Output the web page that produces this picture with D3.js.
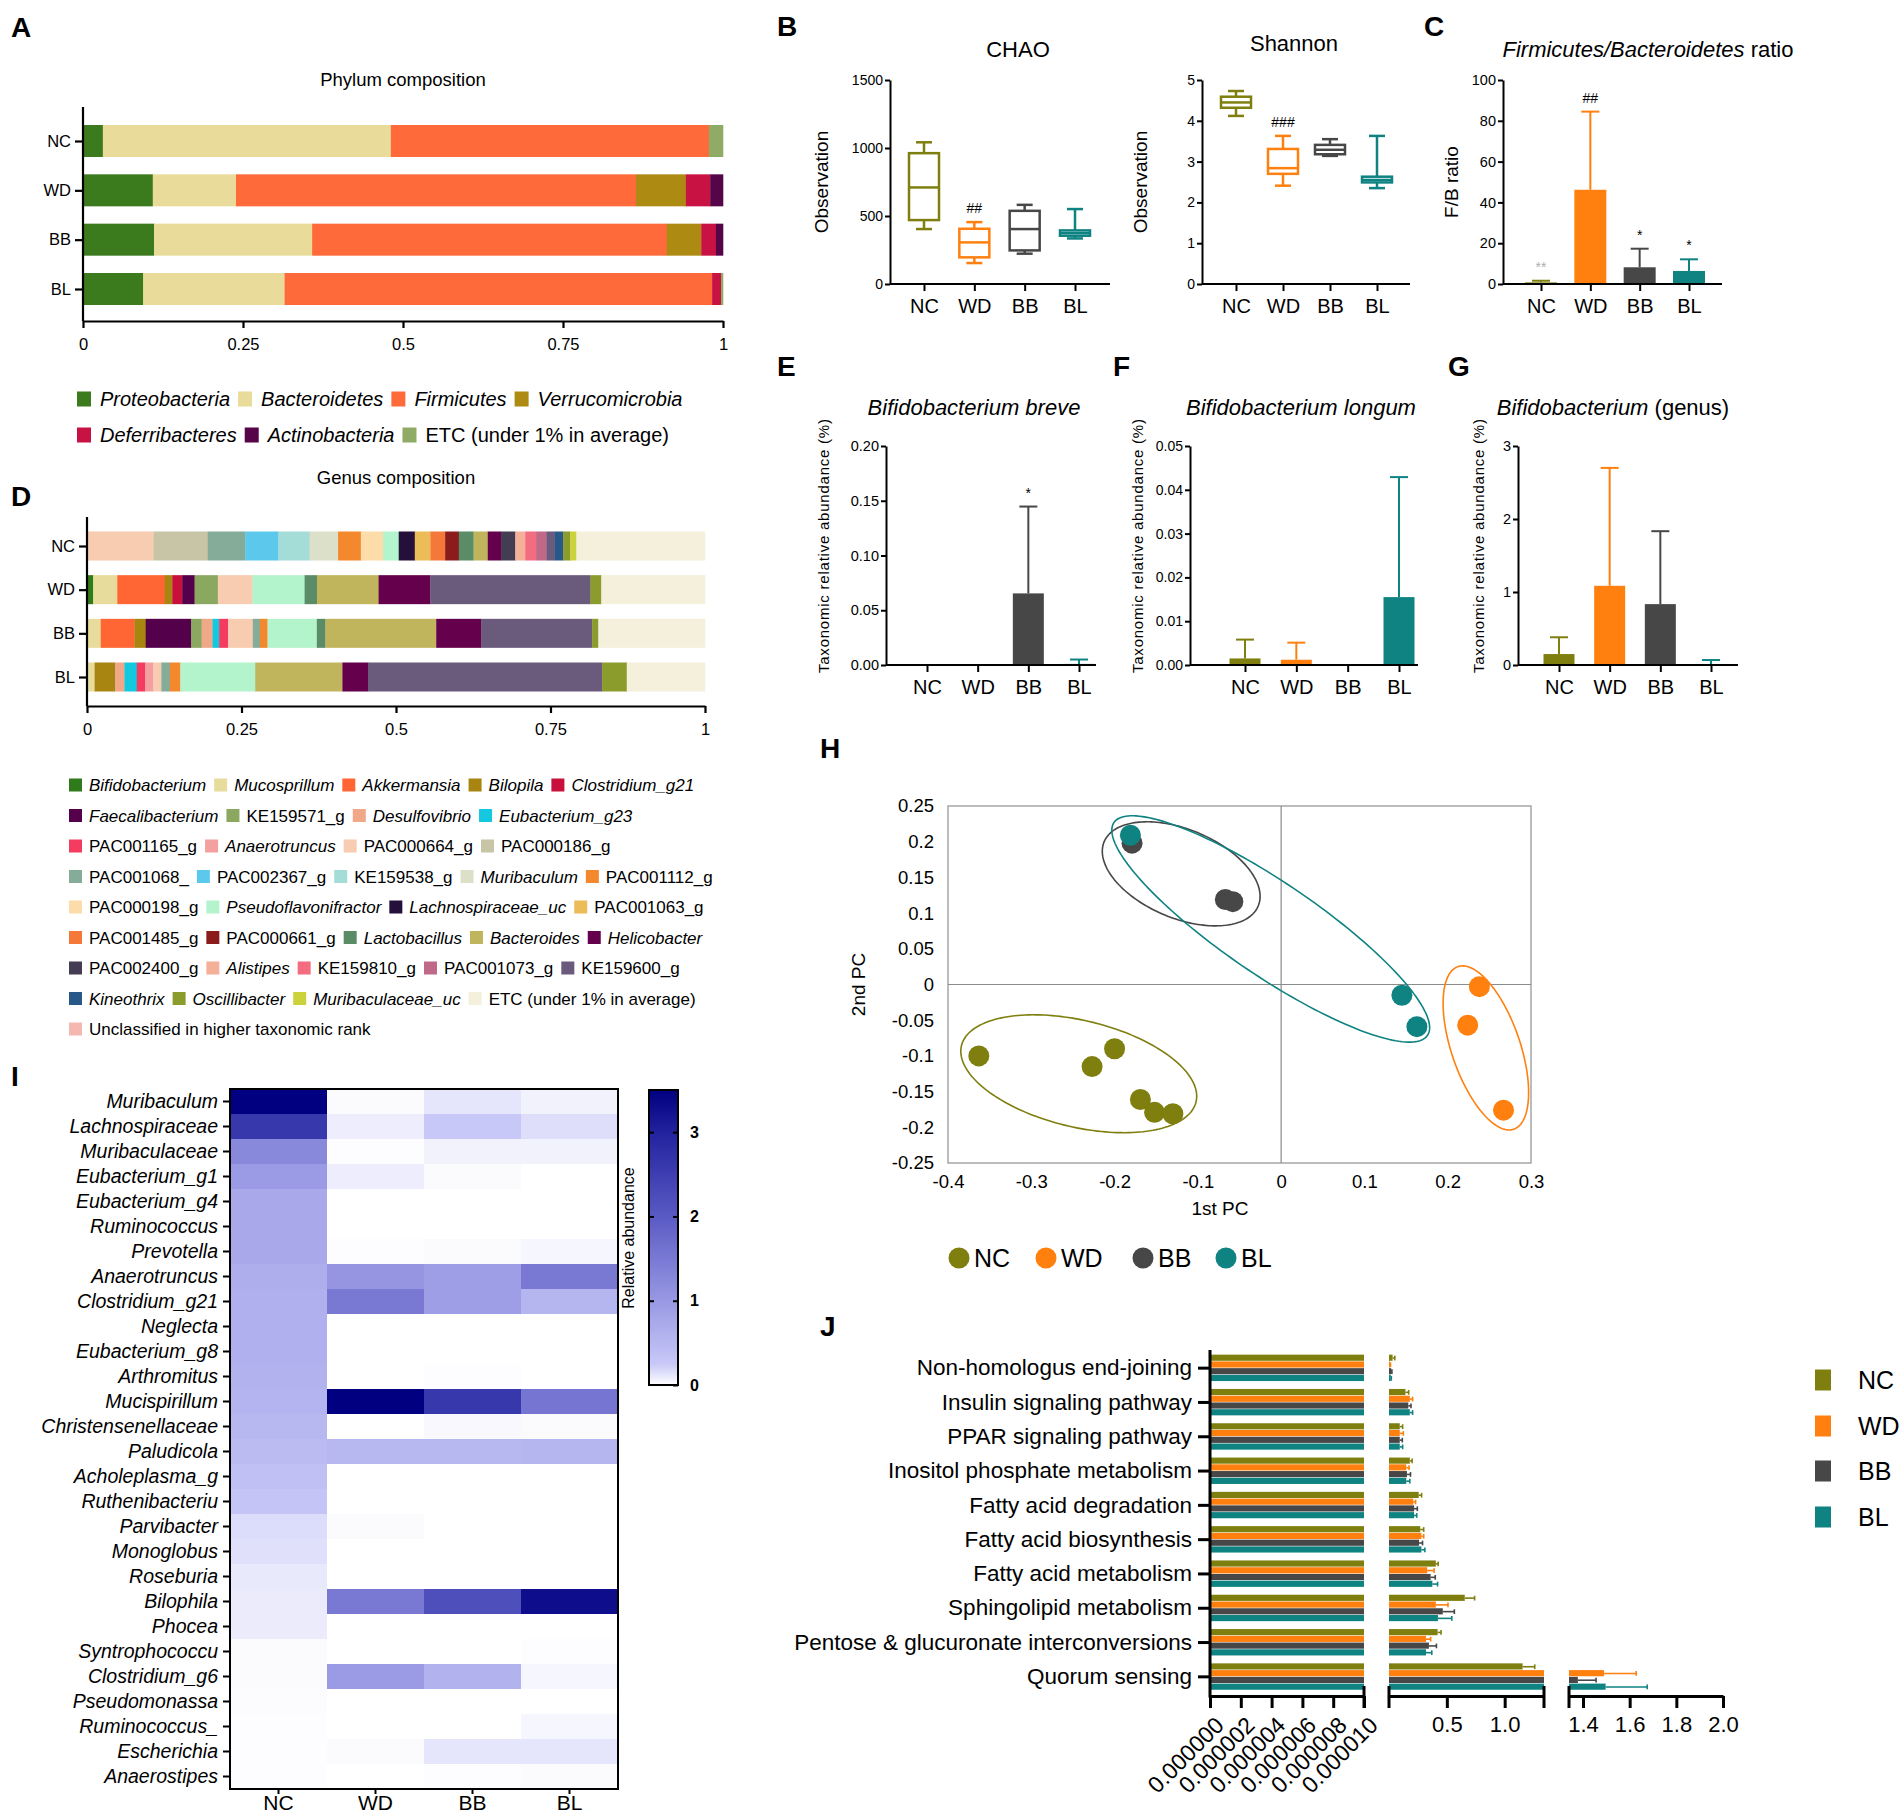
<!DOCTYPE html>
<html>
<head>
<meta charset="utf-8">
<script src="https://cdn.jsdelivr.net/npm/d3@7/dist/d3.min.js"></script>
<style>
html,body{margin:0;padding:0;background:#fff;}
svg{display:block;font-family:"Liberation Sans",Arial,Helvetica,sans-serif;}
</style>
</head>
<body>
<svg id="fig" width="1904" height="1817" viewBox="0 0 1904 1817"></svg>
<script>
// ================= DATA =================
const groups = ["NC","WD","BB","BL"];
const groupColors = ["#7f7f10","#ff800e","#474747","#0f8282"];

// Panel A – phylum composition
const phylumNames = ["Proteobacteria","Bacteroidetes","Firmicutes","Verrucomicrobia","Deferribacteres","Actinobacteria","ETC (under 1% in average)"];
const phylumItalic = [true,true,true,true,true,true,false];
const phylumColors = ["#3b7a1d","#e9dc9a","#ff6a3b","#ad8a12","#c81243","#560548","#8fab66"];
const phylumNC = [0.031,0.450,0.497,0,0,0,0.022];
const phylumWD = [0.109,0.130,0.625,0.078,0.038,0.020,0];
const phylumBB = [0.111,0.247,0.554,0.054,0.023,0.011,0];
const phylumBL = [0.094,0.221,0.668,0,0.014,0,0.003];
const compTicks = [0,0.25,0.5,0.75,1];

// Panel D – genus composition
const genusNames = ["Bifidobacterium","Mucosprillum","Akkermansia","Bilopila","Clostridium_g21",
 "Faecalibacterium","KE159571_g","Desulfovibrio","Eubacterium_g23",
 "PAC001165_g","Anaerotruncus","PAC000664_g","PAC000186_g",
 "PAC001068_","PAC002367_g","KE159538_g","Muribaculum","PAC001112_g",
 "PAC000198_g","Pseudoflavonifractor","Lachnospiraceae_uc","PAC001063_g",
 "PAC001485_g","PAC000661_g","Lactobacillus","Bacteroides","Helicobacter",
 "PAC002400_g","Alistipes","KE159810_g","PAC001073_g","KE159600_g",
 "Kineothrix","Oscillibacter","Muribaculaceae_uc","ETC (under 1% in average)",
 "Unclassified in higher taxonomic rank"];
const genusItalic = [1,1,1,1,1, 1,0,1,1, 0,1,0,0, 0,0,0,1,0, 0,1,1,0, 0,0,1,1,1, 0,1,0,0,0, 1,1,1,0, 0];
const genusColors = ["#2f7a1a","#e8dc9c","#ff6633","#a88410","#c8103c",
 "#55004a","#8aa860","#f0a888","#14c8e0",
 "#f43c60","#f4a0a0","#f8ccb0","#c8c4a6",
 "#84ac98","#5cc8ec","#a4dcd8","#dde0c8","#f4882c",
 "#fcdca8","#b4f4cc","#24103a","#ecbc58",
 "#f47838","#8c1c1c","#5a8c68","#c0b45c","#64004c",
 "#443c50","#f4b098","#f46c80","#c06888","#6a5a7c",
 "#285888","#8c9c2c","#ccd23c","#f4f0dc",
 "#f4b8b0"];
const genusLegendRows = [5,4,4,5,4,5,5,4,1];
const genusNC = [0,0,0,0,0, 0,0,0,0, 0,0,0.108,0.0874, 0.0606,0.0537,0.0506,0.046,0.0368, 0.036,0.0253,0.026,0.0253, 0.0238,0.0222,0.0238,0.023,0.0215, 0.023,0.0161,0.0176,0.0169,0.013, 0.0138,0.0115,0.01,0.2081, 0];
const genusWD = [0.01,0.039,0.0767,0.0123,0.0161, 0.02,0.0376,0,0, 0,0,0.056,0, 0,0,0,0,0, 0,0.0844,0,0, 0,0,0.02,0.0997,0.0836, 0,0,0,0,0.2592, 0,0.0176,0,0.1678, 0];
const genusBB = [0,0.0222,0.0544,0.0184,0, 0.0736,0.0169,0.0176,0.0107, 0.0146,0,0.0399,0, 0.0115,0,0,0,0.0123, 0,0.0798,0,0, 0,0,0.0138,0.1794,0.0729, 0,0,0,0,0.1794, 0,0.01,0,0.1726, 0];
const genusBL = [0,0.0123,0,0.033,0, 0,0,0.0153,0.0199, 0.0138,0.013,0.013,0, 0.0138,0,0,0,0.0169, 0,0.1212,0,0, 0,0,0,0.1411,0.0414, 0,0,0,0,0.3788, 0,0.0399,0,0.1266, 0];

// Panel B – box plots [min, q1, median, q3, max]
const chaoStats = [[404,470,710,962,1042],[154,196,306,406,455],[223,247,404,538,582],[335,355,374,394,551]];
const chaoSig = ["","##","",""];
const chaoTicks = [0,500,1000,1500];
const shannonStats = [[4.12,4.32,4.45,4.59,4.73],[2.41,2.70,2.84,3.31,3.63],[3.14,3.18,3.29,3.41,3.55],[2.35,2.49,2.55,2.63,3.63]];
const shannonSig = ["","###","",""];
const shannonTicks = [0,1,2,3,4,5];

// Panel C – F/B ratio (mean, upper error)
const fbMean = [0.8,46.2,8.2,6.4];
const fbErr = [1.6,84.5,17.3,12.1];
const fbSig = ["**","##","*","*"];
const fbTicks = [0,20,40,60,80,100];

// Panels E, F, G
const breveMean = [0,0,0.0654,0.001];
const breveErr = [0,0,0.1447,0.005];
const breveSig = ["","","*",""];
const breveTicks = [0,0.05,0.10,0.15,0.20];
const longumMean = [0.0015,0.0012,0,0.0155];
const longumErr = [0.0058,0.0051,0,0.0429];
const longumTicks = [0,0.01,0.02,0.03,0.04,0.05];
const genusBifMean = [0.15,1.085,0.834,0.014];
const genusBifErr = [0.38,2.70,1.833,0.068];
const genusBifTicks = [0,1,2,3];

// Panel H – PCA
const pcaNC = [[-0.363,-0.100],[-0.227,-0.115],[-0.200,-0.090],[-0.169,-0.161],[-0.152,-0.179],[-0.130,-0.181]];
const pcaWD = [[0.238,-0.003],[0.224,-0.057],[0.267,-0.176]];
const pcaBB = [[-0.179,0.198],[-0.067,0.119],[-0.058,0.116]];
const pcaBL = [[-0.181,0.209],[0.145,-0.015],[0.163,-0.059]];
const ellipseCenter = [[-0.243,-0.125],[0.2458,-0.0888],[-0.120,0.155],[-0.0125,0.0778]];
const ellipseU = [[0.138,-0.0478],[0.0309,-0.1146],[0.0852,-0.0571],[0.185,-0.153]];
const ellipseV = [[-0.0318,-0.0673],[-0.041,-0.0081],[-0.0414,-0.0453],[-0.0467,-0.0414]];
const pcaTicksX = [-0.4,-0.3,-0.2,-0.1,0,0.1,0.2,0.3];
const pcaTicksY = [0.25,0.2,0.15,0.1,0.05,0,-0.05,-0.1,-0.15,-0.2,-0.25];

// Panel I – heatmap
const heatRows = ["Muribaculum","Lachnospiraceae","Muribaculaceae","Eubacterium_g1","Eubacterium_g4","Ruminococcus","Prevotella","Anaerotruncus","Clostridium_g21","Neglecta","Eubacterium_g8","Arthromitus","Mucispirillum","Christensenellaceae","Paludicola","Acholeplasma_g","Ruthenibacteriu","Parvibacter","Monoglobus","Roseburia","Bilophila","Phocea","Syntrophococcu","Clostridium_g6","Pseudomonassa","Ruminococcus_","Escherichia","Anaerostipes"];
const heatNC = [3.5,2.6,1.25,0.95,0.75,0.75,0.75,0.65,0.63,0.62,0.62,0.6,0.56,0.5,0.46,0.38,0.32,0.16,0.14,0.1,0.09,0.09,0.02,0.02,0.015,0.01,0.01,0.01];
const heatWD = [0.02,0.08,0.01,0.08,0,0,0.01,1.05,1.5,0,0,0,3.5,0,0.5,0,0,0.02,0,0,1.5,0,0,0.95,0,0,0.02,0];
const heatBB = [0.12,0.25,0.06,0.02,0,0,0.02,0.9,0.9,0,0,0.01,2.6,0.03,0.5,0,0,0,0,0,2.2,0,0,0.6,0,0,0.12,0.01];
const heatBL = [0.06,0.15,0.06,0,0,0,0.04,1.5,0.55,0,0,0,1.55,0.02,0.55,0,0,0,0,0,3.3,0,0.01,0.04,0,0.04,0.12,0.02];
const heatStops = [0,0.25,1,2,3,3.5];
const heatPalette = ["#ffffff","#c8c8f8","#9898e4","#5a5ac4","#22229e","#000080"];
const heatBarTicks = [0,1,2,3];

// Panel J – pathways (mean, upper error)
const pathways = ["Non-homologus end-joining","Insulin signaling pathway","PPAR signaling pathway","Inositol phosphate metabolism","Fatty acid degradation","Fatty acid biosynthesis","Fatty acid metabolism","Sphingolipid metabolism","Pentose & glucuronate interconversions","Quorum sensing"];
const pathNC = [0.031,0.142,0.093,0.18,0.257,0.27,0.405,0.655,0.42,1.155];
const pathWD = [0.009,0.18,0.093,0.149,0.21,0.28,0.33,0.405,0.32,1.49];
const pathBB = [0.019,0.167,0.093,0.155,0.217,0.26,0.36,0.465,0.345,1.378];
const pathBL = [0.015,0.18,0.093,0.149,0.217,0.28,0.375,0.423,0.32,1.497];
const pathErrNC = [0.05,0.17,0.118,0.2,0.282,0.30,0.425,0.74,0.45,1.26];
const pathErrWD = [0.013,0.204,0.124,0.173,0.23,0.30,0.39,0.51,0.36,1.628];
const pathErrBB = [0.025,0.19,0.115,0.186,0.245,0.29,0.40,0.565,0.41,1.456];
const pathErrBL = [0.02,0.204,0.118,0.18,0.24,0.31,0.42,0.543,0.37,1.675];
const jTicks1 = [0,0.000002,0.000004,0.000006,0.000008,0.00001];
const jTicks2 = [0.5,1.0];
const jTicks3 = [1.4,1.6,1.8,2.0];

// ================= DRAWING =================
const svg = d3.select("#fig");
svg.append("rect").attr("width",1904).attr("height",1817).attr("fill","#fff");

function styleAxis(g, fs, sw) {
  g.attr("font-family", null).attr("font-size", fs);
  g.selectAll("path.domain, line").attr("stroke","#000").attr("stroke-width", sw);
  g.selectAll("text").attr("fill","#000");
  return g;
}
function addText(x, y, str, o) {
  o = o || {};
  const t = svg.append("text").attr("x", x).attr("y", y).text(str)
    .attr("font-size", o.fs || 16).attr("text-anchor", o.anchor || "start").attr("fill", o.fill || "#000");
  if (o.bold) t.attr("font-weight","bold");
  if (o.italic) t.attr("font-style","italic");
  if (o.rotate) t.attr("transform", `rotate(${o.rotate},${x},${y})`);
  if (o.len) t.attr("textLength", o.len).attr("lengthAdjust","spacing");
  return t;
}
function richText(x, y, parts, fs) {
  const t = svg.append("text").attr("x",x).attr("y",y).attr("font-size",fs).attr("text-anchor","middle");
  parts.forEach(p => t.append("tspan").text(p[0]).attr("font-style", p[1] ? "italic" : "normal"));
  return t;
}

// panel letters
[["A",11,37],["B",777,36],["C",1424,36],["D",11,506],["E",777,376],["F",1113,376],["G",1448,376],["H",820,758],["I",11,1086],["J",820,1336]]
  .forEach(p => addText(p[1], p[2], p[0], {fs:28, bold:true}));

// ---------- stacked composition bars ----------
function stacked(rows, colors, cfg) {
  const x = d3.scaleLinear().domain([0,1]).range(cfg.xr);
  const y = d3.scalePoint().domain(groups).range(cfg.yr);
  const g = svg.append("g");
  rows.forEach((vals, gi) => {
    const segs = [];
    let cum = 0;
    vals.forEach((v,i) => { if (v > 0) segs.push({i, a:cum, b:Math.min(1, cum+v)}); cum += v; });
    g.append("g").selectAll("rect").data(segs).join("rect")
      .attr("x", d => x(d.a)).attr("width", d => Math.max(0, x(d.b) - x(d.a)) + 0.3)
      .attr("y", y(groups[gi]) - cfg.barH/2).attr("height", cfg.barH)
      .attr("fill", d => colors[d.i]);
  });
  const ya = g.append("g").attr("transform", `translate(${cfg.xr[0]},0)`)
    .call(d3.axisLeft(y).tickSize(8).tickPadding(4));
  ya.select(".domain").remove();
  ya.append("line").attr("x1",0).attr("x2",0).attr("y1",cfg.yTop).attr("y2",cfg.axisY);
  styleAxis(ya, cfg.fs, 2.2);
  const xa = g.append("g").attr("transform", `translate(0,${cfg.axisY})`)
    .call(d3.axisBottom(x).tickValues(compTicks).tickFormat(d => String(d)).tickSize(7).tickSizeOuter(0).tickPadding(10));
  styleAxis(xa, cfg.fs, 2.2);
}
function flowLegend(names, italic, colors, rows, cfg) {
  let idx = 0;
  rows.forEach((n, r) => {
    let x = cfg.x;
    const yc = cfg.y0 + r*cfg.dy;
    for (let k = 0; k < n; k++, idx++) {
      svg.append("rect").attr("x",x).attr("y",yc-cfg.sh/2).attr("width",cfg.sw).attr("height",cfg.sh).attr("fill",colors[idx]);
      const t = svg.append("text").attr("x", x+cfg.tx).attr("y", yc).attr("dy","0.36em")
        .attr("font-size",cfg.fs).attr("font-style", italic[idx] ? "italic" : "normal").text(names[idx]);
      x = x + cfg.tx + t.node().getComputedTextLength() + cfg.gap;
    }
  });
}

// Panel A
addText(403, 86, "Phylum composition", {fs:18.5, anchor:"middle"});
stacked([phylumNC, phylumWD, phylumBB, phylumBL], phylumColors,
  {xr:[83,723], yr:[141,289], barH:32, yTop:107, axisY:321, fs:16.5});
flowLegend(phylumNames, phylumItalic, phylumColors, [4,3],
  {x:77, y0:399, dy:36, sw:14, sh:15, tx:23, gap:8, fs:20});

// Panel D
addText(396, 484, "Genus composition", {fs:18.5, anchor:"middle"});
stacked([genusNC, genusWD, genusBB, genusBL], genusColors,
  {xr:[87,705], yr:[546,677], barH:29, yTop:517, axisY:706, fs:16.5});
flowLegend(genusNames, genusItalic, genusColors, genusLegendRows,
  {x:69, y0:785, dy:30.5, sw:13, sh:13, tx:20, gap:8, fs:17});

// ---------- Panel B box plots ----------
function boxPanel(stats, sig, cfg) {
  const y = d3.scaleLinear().domain(cfg.domain).range([284, 80]);
  const x = d3.scalePoint().domain(groups).range(cfg.xr);
  const g = svg.append("g");
  const ya = g.append("g").attr("transform", `translate(${cfg.ax},0)`)
    .call(d3.axisLeft(y).tickValues(cfg.ticks).tickFormat(d3.format("d")).tickSize(5).tickSizeOuter(0).tickPadding(2));
  styleAxis(ya, 14, 2);
  const xa = g.append("g").attr("transform", "translate(0,284)")
    .call(d3.axisBottom(x).tickSize(7).tickPadding(8));
  xa.select(".domain").remove();
  xa.append("line").attr("x1",cfg.ax).attr("x2",cfg.xend).attr("y1",0).attr("y2",0);
  styleAxis(xa, 20, 2);
  const bw = 30, cw = 16;
  const bx = g.append("g").selectAll("g").data(stats).join("g")
    .attr("stroke", (d,i) => groupColors[i]).attr("stroke-width", 2.5).attr("fill","none");
  bx.append("line").attr("x1",(d,i)=>x(groups[i])).attr("x2",(d,i)=>x(groups[i])).attr("y1",d=>y(d[0])).attr("y2",d=>y(d[1]));
  bx.append("line").attr("x1",(d,i)=>x(groups[i])).attr("x2",(d,i)=>x(groups[i])).attr("y1",d=>y(d[3])).attr("y2",d=>y(d[4]));
  bx.append("line").attr("x1",(d,i)=>x(groups[i])-cw/2).attr("x2",(d,i)=>x(groups[i])+cw/2).attr("y1",d=>y(d[0])).attr("y2",d=>y(d[0]));
  bx.append("line").attr("x1",(d,i)=>x(groups[i])-cw/2).attr("x2",(d,i)=>x(groups[i])+cw/2).attr("y1",d=>y(d[4])).attr("y2",d=>y(d[4]));
  bx.append("rect").attr("x",(d,i)=>x(groups[i])-bw/2).attr("width",bw).attr("y",d=>y(d[3])).attr("height",d=>y(d[1])-y(d[3])).attr("fill","#fff");
  bx.append("line").attr("x1",(d,i)=>x(groups[i])-bw/2).attr("x2",(d,i)=>x(groups[i])+bw/2).attr("y1",d=>y(d[2])).attr("y2",d=>y(d[2]));
  g.append("g").selectAll("text").data(sig).join("text")
    .attr("x",(d,i)=>x(groups[i])).attr("y",(d,i)=>y(stats[i][4]) - 9)
    .attr("text-anchor","middle").attr("font-size",14).text(d=>d);
  addText(cfg.ylx, 182, "Observation", {fs:19, anchor:"middle", rotate:-90});
}
addText(1018, 57, "CHAO", {fs:22, anchor:"middle"});
boxPanel(chaoStats, chaoSig, {domain:[0,1500], ticks:chaoTicks, ax:890, xend:1110, xr:[924,1075], ylx:828});
addText(1294, 51, "Shannon", {fs:22, anchor:"middle"});
boxPanel(shannonStats, shannonSig, {domain:[0,5], ticks:shannonTicks, ax:1202, xend:1410, xr:[1236,1377], ylx:1147});

// ---------- bar panels with error bars ----------
function barPanel(mean, err, sig, cfg) {
  const y = d3.scaleLinear().domain(cfg.domain).range(cfg.yr);
  const x = d3.scalePoint().domain(groups).range(cfg.xr);
  const g = svg.append("g");
  const bw = cfg.bw || 31, cw = 18;
  const data = groups.map((gname,i) => ({gname, i, m:mean[i], e:err[i], s:sig ? sig[i] : ""}));
  const eb = g.append("g").selectAll("g").data(data.filter(d => d.e > d.m)).join("g")
    .attr("stroke", d => groupColors[d.i]).attr("stroke-width", 2);
  eb.append("line").attr("x1",d=>x(d.gname)).attr("x2",d=>x(d.gname)).attr("y1",d=>y(d.m)).attr("y2",d=>y(d.e));
  eb.append("line").attr("x1",d=>x(d.gname)-cw/2).attr("x2",d=>x(d.gname)+cw/2).attr("y1",d=>y(d.e)).attr("y2",d=>y(d.e));
  g.append("g").selectAll("rect").data(data).join("rect")
    .attr("x", d => x(d.gname)-bw/2).attr("width", bw)
    .attr("y", d => y(d.m)).attr("height", d => y(0) - y(d.m))
    .attr("fill", d => groupColors[d.i]);
  const ya = g.append("g").attr("transform", `translate(${cfg.ax},0)`)
    .call(d3.axisLeft(y).tickValues(cfg.ticks).tickFormat(d3.format(cfg.fmt)).tickSize(5).tickSizeOuter(0).tickPadding(2));
  styleAxis(ya, cfg.tfs || 14.5, 2);
  const xa = g.append("g").attr("transform", `translate(0,${cfg.yr[0]})`)
    .call(d3.axisBottom(x).tickSize(7).tickPadding(8));
  xa.select(".domain").remove();
  xa.append("line").attr("x1",cfg.ax).attr("x2",cfg.xend).attr("y1",0).attr("y2",0);
  styleAxis(xa, 20, 2);
  g.append("g").selectAll("text").data(data.filter(d => d.s)).join("text")
    .attr("x", d => x(d.gname)).attr("y", d => y(d.e) - 9)
    .attr("text-anchor","middle").attr("font-size",14)
    .attr("fill", d => d.i === 0 ? "#b0b0b0" : "#000").text(d => d.s);
}
richText(1648, 57, [["Firmicutes/Bacteroidetes",true],[" ratio",false]], 22);
barPanel(fbMean, fbErr, fbSig, {domain:[0,100], yr:[284,80], ax:1503, xend:1722, xr:[1541,1689], ticks:fbTicks, fmt:"d", bw:32});
addText(1458, 182, "F/B ratio", {fs:19, anchor:"middle", rotate:-90});

richText(974, 415, [["Bifidobacterium breve",true]], 22);
barPanel(breveMean, breveErr, breveSig, {domain:[0,0.2], yr:[665,446], ax:886, xend:1096, xr:[927,1079], ticks:breveTicks, fmt:".2f"});
richText(1301, 415, [["Bifidobacterium longum",true]], 22);
barPanel(longumMean, longumErr, null, {domain:[0,0.05], yr:[665,446], ax:1190, xend:1418, xr:[1245,1399], ticks:longumTicks, fmt:".2f", tfs:14});
richText(1613, 415, [["Bifidobacterium",true],[" (genus)",false]], 22);
barPanel(genusBifMean, genusBifErr, null, {domain:[0,3], yr:[665,446], ax:1518, xend:1738, xr:[1559,1711], ticks:genusBifTicks, fmt:"d"});
[829, 1143, 1484].forEach(xx => addText(xx, 546, "Taxonomic relative abundance (%)", {fs:15, anchor:"middle", rotate:-90, len:254}));

// ---------- Panel H PCA ----------
(function(){
  const hx = d3.scaleLinear().domain([-0.4,0.3]).range([948,1531]);
  const hy = d3.scaleLinear().domain([-0.25,0.25]).range([1163,806]);
  const g = svg.append("g");
  g.append("rect").attr("x",hx(-0.4)).attr("y",hy(0.25)).attr("width",hx(0.3)-hx(-0.4)).attr("height",hy(-0.25)-hy(0.25))
    .attr("fill","none").attr("stroke","#a6a6a6").attr("stroke-width",1.5);
  g.append("line").attr("x1",hx(0)).attr("x2",hx(0)).attr("y1",hy(0.25)).attr("y2",hy(-0.25)).attr("stroke","#8c8c8c").attr("stroke-width",1.2);
  g.append("line").attr("x1",hx(-0.4)).attr("x2",hx(0.3)).attr("y1",hy(0)).attr("y2",hy(0)).attr("stroke","#8c8c8c").attr("stroke-width",1.2);
  const xa = g.append("g").attr("transform",`translate(0,${hy(-0.25)})`)
    .call(d3.axisBottom(hx).tickValues(pcaTicksX).tickFormat(d=>String(d)).tickSize(0).tickPadding(12));
  xa.select(".domain").remove(); styleAxis(xa, 18.5, 0);
  const ya = g.append("g").attr("transform",`translate(${hx(-0.4)},0)`)
    .call(d3.axisLeft(hy).tickValues(pcaTicksY).tickFormat(d=>String(d)).tickSize(0).tickPadding(14));
  ya.select(".domain").remove(); styleAxis(ya, 18.5, 0);
  addText(1220, 1215, "1st PC", {fs:19, anchor:"middle"});
  addText(865, hy(0), "2nd PC", {fs:19, anchor:"middle", rotate:-90});
  const pts = [pcaNC, pcaWD, pcaBB, pcaBL];
  const ts = d3.range(0, 2*Math.PI, Math.PI/90);
  const line = d3.line().curve(d3.curveLinearClosed);
  groups.forEach((gname, gi) => {
    const c = ellipseCenter[gi], u = ellipseU[gi], v = ellipseV[gi];
    g.append("path").attr("d", line(ts.map(t => [hx(c[0]+u[0]*Math.cos(t)+v[0]*Math.sin(t)), hy(c[1]+u[1]*Math.cos(t)+v[1]*Math.sin(t))])))
      .attr("fill","none").attr("stroke",groupColors[gi]).attr("stroke-width",1.6);
  });
  groups.forEach((gname, gi) => {
    g.append("g").selectAll("circle").data(pts[gi]).join("circle")
      .attr("cx", d => hx(d[0])).attr("cy", d => hy(d[1])).attr("r", 10.5).attr("fill", groupColors[gi]);
  });
  const lx = [959,1046,1143,1226];
  groups.forEach((gname, gi) => {
    g.append("circle").attr("cx",lx[gi]).attr("cy",1258).attr("r",10.5).attr("fill",groupColors[gi]);
    g.append("text").attr("x",lx[gi]+15).attr("y",1258).attr("dy","0.36em").attr("font-size",25).text(gname);
  });
})();

// ---------- Panel I heatmap ----------
(function(){
  const hmX = d3.scaleBand().domain(groups).range([230,618]);
  const hmY = d3.scaleBand().domain(heatRows).range([1089,1789]);
  const color = d3.scaleLinear().domain(heatStops).range(heatPalette).clamp(true);
  const vals = [heatNC, heatWD, heatBB, heatBL];
  const cells = heatRows.flatMap((r,i) => groups.map((gname,gi) => ({r, gname, v: vals[gi][i]})));
  const g = svg.append("g");
  g.append("g").selectAll("rect").data(cells).join("rect")
    .attr("x", d => hmX(d.gname)).attr("y", d => hmY(d.r))
    .attr("width", hmX.bandwidth()+0.5).attr("height", hmY.bandwidth()+0.5)
    .attr("fill", d => color(d.v));
  g.append("rect").attr("x",230).attr("y",1089).attr("width",388).attr("height",700)
    .attr("fill","none").attr("stroke","#000").attr("stroke-width",2);
  const ya = g.append("g").attr("transform","translate(230,0)").call(d3.axisLeft(hmY).tickSize(7).tickPadding(5));
  ya.select(".domain").remove(); styleAxis(ya, 19.5, 2);
  ya.selectAll("text").attr("font-style","italic");
  const xa = g.append("g").attr("transform","translate(0,1789)").call(d3.axisBottom(hmX).tickSize(5).tickPadding(1));
  xa.select(".domain").remove(); styleAxis(xa, 21, 2);
  const cbY = d3.scaleLinear().domain([0,3.5]).range([1385,1090]);
  const grad = svg.append("defs").append("linearGradient").attr("id","cbGrad")
    .attr("x1",0).attr("y1",1).attr("x2",0).attr("y2",0);
  d3.range(0, 3.5001, 0.05).forEach(v => grad.append("stop").attr("offset", v/3.5).attr("stop-color", color(v)));
  g.append("rect").attr("x",649).attr("y",1090).attr("width",29).attr("height",295)
    .attr("fill","url(#cbGrad)").attr("stroke","#000").attr("stroke-width",2);
  const cr = g.append("g").attr("transform","translate(678,0)")
    .call(d3.axisRight(cbY).tickValues(heatBarTicks).tickFormat(d3.format("d")).tickSize(-5).tickSizeOuter(0).tickPadding(12));
  cr.select(".domain").remove(); styleAxis(cr, 16, 2);
  cr.selectAll("text").attr("font-weight","bold");
  const cl = g.append("g").attr("transform","translate(649,0)")
    .call(d3.axisLeft(cbY).tickValues(heatBarTicks.filter(d=>d>0)).tickSize(-5).tickFormat(""));
  cl.select(".domain").remove(); styleAxis(cl, 16, 2);
  addText(634, 1238, "Relative abundance", {fs:16, anchor:"middle", rotate:-90});
})();

// ---------- Panel J broken-axis bars ----------
(function(){
  const jx1 = d3.scaleLinear().domain([0,0.00001]).range([1210,1364]);
  const jx2 = d3.scaleLinear().domain([0,1.34]).range([1389,1544]);
  const jx3 = d3.scaleLinear().domain([1.34,2.0]).range([1569,1723]);
  const lim1 = 0.00001, lim2 = 1.34;
  const jy = d3.scaleBand().domain(pathways).range([1351,1694]);
  const gh = 27;
  const jIn = d3.scaleBand().domain(groups).range([0,gh]);
  const jAxisY = 1696;
  const means = [pathNC, pathWD, pathBB, pathBL];
  const errs = [pathErrNC, pathErrWD, pathErrBB, pathErrBL];
  const rows = pathways.flatMap((p,i) => groups.map((gname,gi) => ({p, gname, gi, v: means[gi][i], e: errs[gi][i]})));
  const yOf = d => jy(d.p) + (jy.bandwidth()-gh)/2 + jIn(d.gname);
  const h = jIn.bandwidth();
  const g = svg.append("g");
  const eb = g.append("g").selectAll("g").data(rows).join("g").attr("stroke", d => groupColors[d.gi]).attr("stroke-width", 1.6);
  const ex = d => d.e > lim2 ? jx3(d.e) : jx2(d.e);
  const sx = d => d.v > lim2 ? jx3(d.v) : jx2(d.v);
  eb.append("line").attr("x1", sx).attr("x2", ex).attr("y1", d => yOf(d)+h/2).attr("y2", d => yOf(d)+h/2);
  eb.append("line").attr("x1", ex).attr("x2", ex).attr("y1", d => yOf(d)+1).attr("y2", d => yOf(d)+h-1);
  g.append("g").selectAll("rect").data(rows).join("rect")
    .attr("x", jx1(0)).attr("width", d => jx1(Math.min(d.v, lim1)) - jx1(0))
    .attr("y", yOf).attr("height", h-0.6).attr("fill", d => groupColors[d.gi]);
  g.append("g").selectAll("rect").data(rows).join("rect")
    .attr("x", jx2(0)).attr("width", d => jx2(Math.min(d.v, lim2)) - jx2(0))
    .attr("y", yOf).attr("height", h-0.6).attr("fill", d => groupColors[d.gi]);
  g.append("g").selectAll("rect").data(rows.filter(d => d.v > lim2)).join("rect")
    .attr("x", jx3(lim2)).attr("width", d => jx3(d.v) - jx3(lim2))
    .attr("y", yOf).attr("height", h-0.6).attr("fill", d => groupColors[d.gi]);
  const ya = g.append("g").attr("transform","translate(1210,0)").call(d3.axisLeft(jy).tickSize(12).tickPadding(6).tickSizeOuter(0));
  ya.select(".domain").remove();
  ya.append("line").attr("x1",0).attr("x2",0).attr("y1",1350).attr("y2",jAxisY+1.5);
  styleAxis(ya, 22.5, 3);
  const a1 = g.append("g").attr("transform",`translate(0,${jAxisY})`)
    .call(d3.axisBottom(jx1).tickValues(jTicks1).tickFormat(d => d.toFixed(6)).tickSize(12).tickSizeOuter(0));
  styleAxis(a1, 23, 3);
  a1.selectAll("text").attr("text-anchor","end").attr("y",0).attr("dy","0.35em").attr("transform","translate(9,25) rotate(-45)");
  const a2 = g.append("g").attr("transform",`translate(0,${jAxisY})`)
    .call(d3.axisBottom(jx2).tickValues(jTicks2).tickFormat(d3.format(".1f")).tickSize(12).tickSizeOuter(0).tickPadding(8));
  styleAxis(a2, 22, 3);
  const a3 = g.append("g").attr("transform",`translate(0,${jAxisY})`)
    .call(d3.axisBottom(jx3).tickValues(jTicks3).tickFormat(d3.format(".1f")).tickSize(12).tickSizeOuter(0).tickPadding(8));
  styleAxis(a3, 22, 3);
  [jx1(lim1), jx2(0), jx2(lim2), jx3(lim2)].forEach(xx =>
    g.append("line").attr("x1",xx).attr("x2",xx).attr("y1",jAxisY-10).attr("y2",jAxisY+12).attr("stroke","#000").attr("stroke-width",3));
  const ly = [1380,1426,1471,1517];
  groups.forEach((gname, gi) => {
    g.append("rect").attr("x",1815).attr("y",ly[gi]-10.5).attr("width",16).attr("height",21).attr("fill",groupColors[gi]);
    g.append("text").attr("x",1858).attr("y",ly[gi]).attr("dy","0.36em").attr("font-size",25).text(gname);
  });
})();
</script>
</body>
</html>
